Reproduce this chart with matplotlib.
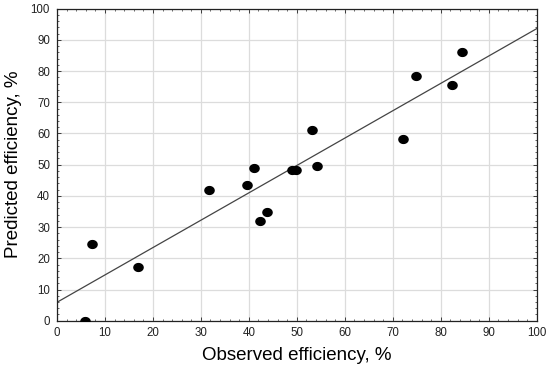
import matplotlib
matplotlib.use("Agg")
import matplotlib.pyplot as plt
import numpy as np
from matplotlib.ticker import MultipleLocator
from matplotlib.path import Path

observed = [5.9, 7.3, 16.9, 31.7, 39.7, 41.0, 42.4, 43.8, 48.9, 49.8, 53.1, 54.1, 72.2, 74.9, 82.3, 84.5]
predicted = [0.0, 24.6, 17.3, 41.8, 43.4, 48.9, 32.0, 34.8, 48.3, 48.3, 61.1, 49.5, 58.1, 78.3, 75.5, 86.0]
fit_intercept = 5.9
fit_slope = 0.877

plt.rcParams['font.family'] = ['Liberation Sans', 'DejaVu Sans']

t = np.linspace(0, 2 * np.pi, 60)
ellipse = Path(np.column_stack([np.cos(t), 0.85 * np.sin(t)]), closed=True)

fig = plt.figure(figsize=(5.5, 3.68), dpi=100)
ax = fig.add_axes([0.1036, 0.1285, 0.9758 - 0.1036, 0.9764 - 0.1285])

xs = np.array([0, 100])
ax.plot(xs, fit_intercept + fit_slope * xs, color='#444444', lw=0.9, zorder=2)
ax.plot(observed, predicted, linestyle='none', marker=ellipse, color='black',
        mec='black', ms=6.6, zorder=3, clip_on=True)

ax.set_xlim(0, 100)
ax.set_ylim(0, 100)
ax.xaxis.set_major_locator(MultipleLocator(10))
ax.yaxis.set_major_locator(MultipleLocator(10))
ax.xaxis.set_minor_locator(MultipleLocator(2))
ax.yaxis.set_minor_locator(MultipleLocator(2))
ax.grid(True, which='major', color='#dcdcdc', lw=0.9)
ax.set_axisbelow(True)
ax.tick_params(which='both', direction='in', top=True, right=True, labelsize=8.3, colors='#222222')
ax.tick_params(which='major', length=3, width=0.6)
ax.tick_params(axis='x', which='major', pad=4.5)
ax.tick_params(axis='y', which='major', pad=5)
ax.tick_params(which='minor', length=1.5, width=0.5)
for s in ax.spines.values():
    s.set_linewidth(0.9)
    s.set_color('#222222')

ax.set_xlabel('Observed efficiency, %', fontsize=13.5, labelpad=6)
ax.set_ylabel('Predicted efficiency, %', fontsize=13.5, labelpad=6)

fig.savefig('out.png', dpi=100)
